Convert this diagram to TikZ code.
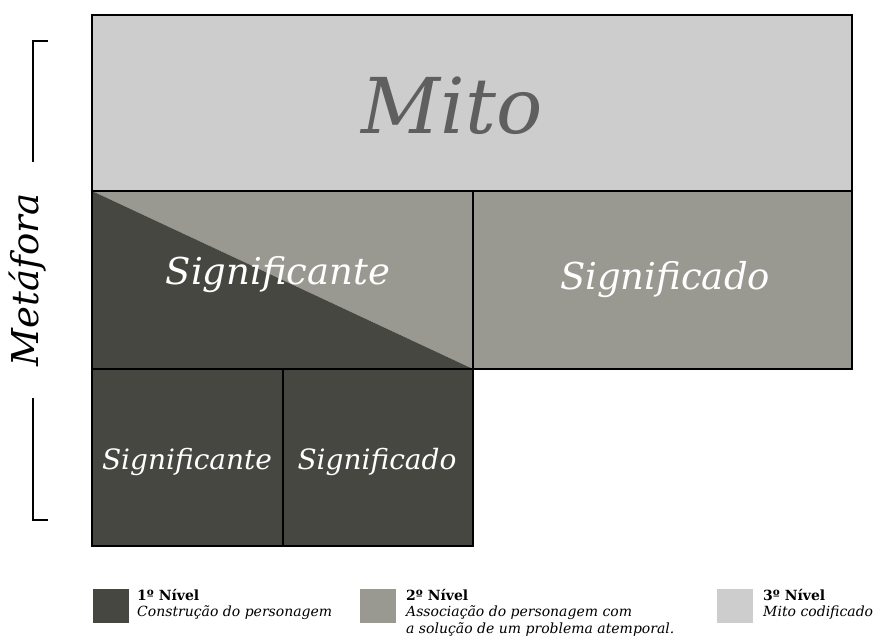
\documentclass[tikz,border=0pt]{standalone}
\usepackage{fontspec}
\setmainfont{DejaVu Serif}
\definecolor{nivelum}{HTML}{474741}
\definecolor{niveldois}{HTML}{999891}
\definecolor{niveltres}{HTML}{CDCDCD}
\definecolor{mitocor}{HTML}{5F5F5F}
\tikzset{
  bloco/.style={draw=black, line width=1.8pt},
  rotulo/.style={text=white, font=\itshape\fontsize{#1}{#1}\selectfont},
  legbox/.style={minimum width=36pt, minimum height=34pt, inner sep=0pt},
  legtexto/.style={anchor=base west, inner sep=0pt, font=\fontsize{14}{14}\selectfont}
}
\begin{document}
\begin{tikzpicture}[x=1pt, y=-1pt]
    \useasboundingbox (0,0) rectangle (874,639);
    % niveis
    \fill[niveltres] (92,15) rectangle (852,191);
    \fill[niveldois] (473,191) rectangle (852,369);
    \fill[niveldois] (92,191) -- (473,191) -- (473,369) -- cycle;
    \fill[nivelum] (92,191) -- (473,369) -- (92,369) -- cycle;
    \fill[nivelum] (92,369) rectangle (473,546);
    \draw[bloco] (92,15) rectangle (852,191);
    \draw[bloco] (92,191) rectangle (473,369);
    \draw[bloco] (473,191) rectangle (852,369);
    \draw[bloco] (92,369) rectangle (283,546);
    \draw[bloco] (283,369) rectangle (473,546);
    \node[font=\itshape\fontsize{77}{77}\selectfont, text=mitocor] (mito) at (452,106) {Mito};
    \node[rotulo=37] (sgte) at (278,275) {Significante};
    \node[rotulo=37] (sgdo) at (665,280) {Significado};
    \node[rotulo=28] (sgte2) at (187,462) {Significante};
    \node[rotulo=28] (sgdo2) at (377,462) {Significado};
    % metafora
    \draw[line width=1.8pt] (48,41) -- (33,41) -- (33,162);
    \draw[line width=1.8pt] (33,398) -- (33,520) -- (48,520);
    \node[rotate=90, font=\itshape\fontsize{37}{37}\selectfont] (meta) at (28,280) {Metáfora};
    % legenda
    \node[legbox, fill=nivelum] (leg1) at (111,606) {};
    \node[legtexto, font=\bfseries\fontsize{14}{14}\selectfont] (n1) at (137,600) {1º Nível};
    \node[legtexto, font=\itshape\fontsize{14}{14}\selectfont] (d1) at (137,616) {Construção do personagem};
    \node[legbox, fill=niveldois] (leg2) at (378,606) {};
    \node[legtexto, font=\bfseries\fontsize{14}{14}\selectfont] (n2) at (406,600) {2º Nível};
    \node[legtexto, font=\itshape\fontsize{14}{14}\selectfont] (d2) at (406,616) {Associação do personagem com};
    \node[legtexto, font=\itshape\fontsize{14}{14}\selectfont] (d2b) at (406,633) {a solução de um problema atemporal.};
    \node[legbox, fill=niveltres] (leg3) at (735,606) {};
    \node[legtexto, font=\bfseries\fontsize{14}{14}\selectfont] (n3) at (763,600) {3º Nível};
    \node[legtexto, font=\itshape\fontsize{14}{14}\selectfont] (d3) at (763,616) {Mito codificado};
\end{tikzpicture}
\end{document}
